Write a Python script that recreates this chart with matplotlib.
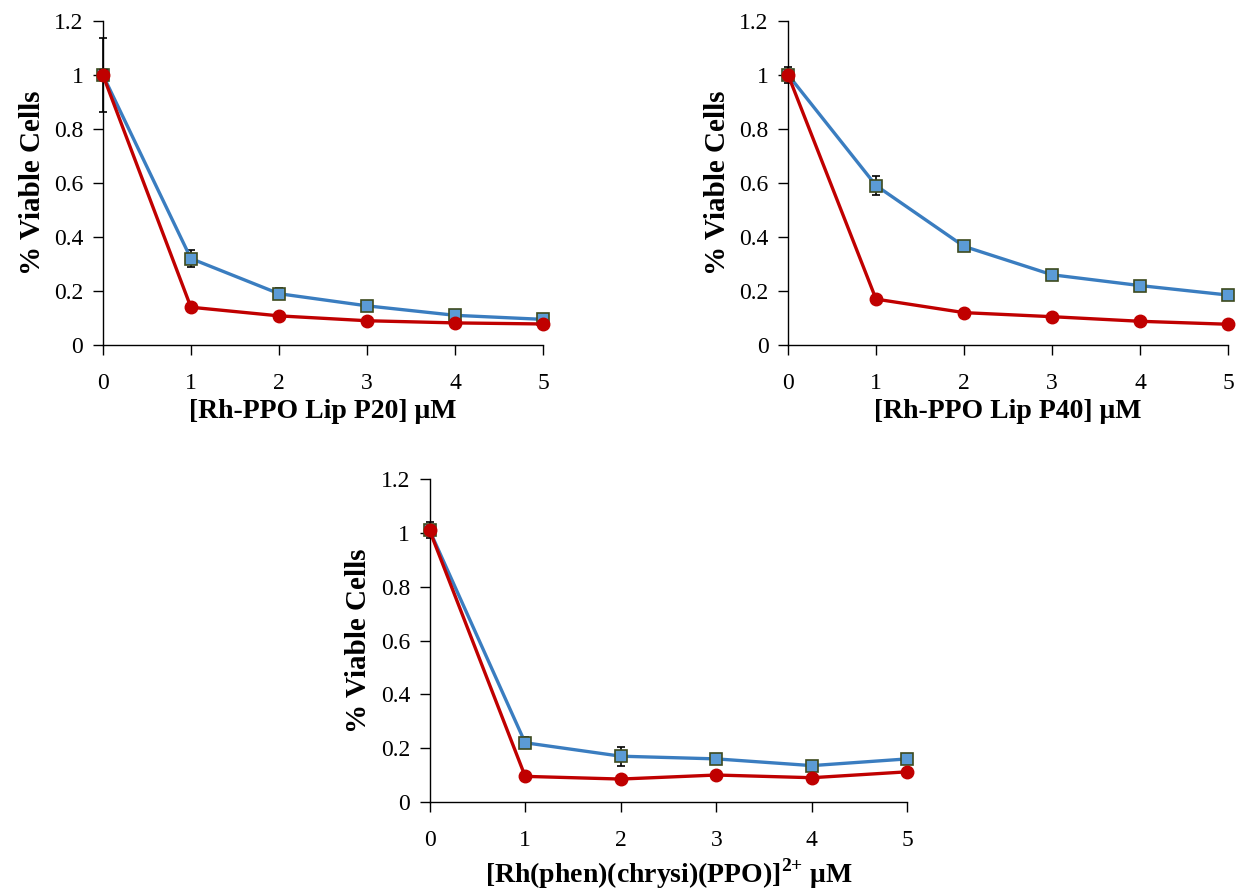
import numpy as np
import matplotlib
matplotlib.use("Agg")
import matplotlib.pyplot as plt

plt.rcParams['font.family'] = ['Liberation Serif', 'DejaVu Serif']
plt.rcParams['mathtext.fontset'] = 'custom'
plt.rcParams['mathtext.rm'] = 'Liberation Serif'
plt.rcParams['mathtext.bf'] = 'Liberation Serif:bold'

conc = [0, 1, 2, 3, 4, 5]

# panel 1: Rh-PPO Lip P20
p20_blue = [1.0, 0.32, 0.19, 0.145, 0.11, 0.095]
p20_blue_err = [0.137, 0.03, 0.02, 0.01, 0.008, 0.006]
p20_red = [1.0, 0.14, 0.108, 0.09, 0.082, 0.078]
p20_red_err = [0.02, 0.006, 0.005, 0.004, 0.004, 0.004]

# panel 2: Rh-PPO Lip P40
p40_blue = [1.0, 0.59, 0.365, 0.26, 0.22, 0.185]
p40_blue_err = [0.03, 0.035, 0.01, 0.008, 0.006, 0.006]
p40_red = [1.0, 0.17, 0.12, 0.105, 0.088, 0.077]
p40_red_err = [0.01, 0.006, 0.004, 0.004, 0.003, 0.003]

# panel 3: free complex
free_blue = [1.01, 0.22, 0.17, 0.16, 0.135, 0.16]
free_blue_err = [0.03, 0.02, 0.035, 0.008, 0.008, 0.006]
free_red = [1.01, 0.095, 0.085, 0.10, 0.09, 0.112]
free_red_err = [0.01, 0.004, 0.004, 0.004, 0.004, 0.004]

xlabels = ['[Rh-PPO Lip P20] \u03bcM',
           '[Rh-PPO Lip P40] \u03bcM',
           '[Rh(phen)(chrysi)(PPO)]$^{\\mathbf{2{+}}}$ \u03bcM']

fig = plt.figure(figsize=(12.38, 8.94), dpi=100)
ax1 = fig.add_axes([0.083, 0.614, 0.356, 0.363])
ax2 = fig.add_axes([0.6365, 0.614, 0.3555, 0.363])
ax3 = fig.add_axes([0.347, 0.103, 0.386, 0.361])

panels = [(ax1, p20_blue, p20_blue_err, p20_red, p20_red_err),
          (ax2, p40_blue, p40_blue_err, p40_red, p40_red_err),
          (ax3, free_blue, free_blue_err, free_red, free_red_err)]

for i, (ax, b, be, r, re) in enumerate(panels):
    ax.errorbar(conc, b, yerr=be, color='#3a7dc0', lw=2.4, marker='s', ms=8.5,
                mfc='#5b9bd5', mec='#3d4a1e', mew=1.2, ecolor='black',
                elinewidth=1.2, capsize=3, zorder=3)
    ax.errorbar(conc, r, yerr=re, color='#c00000', lw=2.4, marker='o', ms=9,
                mfc='#c00000', mec='#c00000', ecolor='black',
                elinewidth=1.2, capsize=3, zorder=4)
    ax.set_xlim(0, 5)
    ax.set_ylim(0, 1.2)
    ax.set_yticks([0, 0.2, 0.4, 0.6, 0.8, 1, 1.2])
    ax.set_yticklabels(['0', '0.2', '0.4', '0.6', '0.8', '1', '1.2'])
    ax.set_xticks(conc)
    for s in ['top', 'right']:
        ax.spines[s].set_visible(False)
    for s in ['left', 'bottom']:
        ax.spines[s].set_linewidth(1.0)
        ax.spines[s].set_clip_on(False)
    ax.tick_params(axis='both', direction='out', length=7, width=1.0,
                   labelsize=17, pad=7)
    ax.tick_params(axis='x', pad=13)
    ax.set_ylabel('% Viable Cells', fontsize=21, fontweight='bold', labelpad=6)
    ax.set_xlabel(xlabels[i], fontsize=20, fontweight='bold', labelpad=4)
    for ln in ax.lines + [c for c in ax.collections]:
        ln.set_clip_on(False)

fig.savefig('out.png', dpi=100)
